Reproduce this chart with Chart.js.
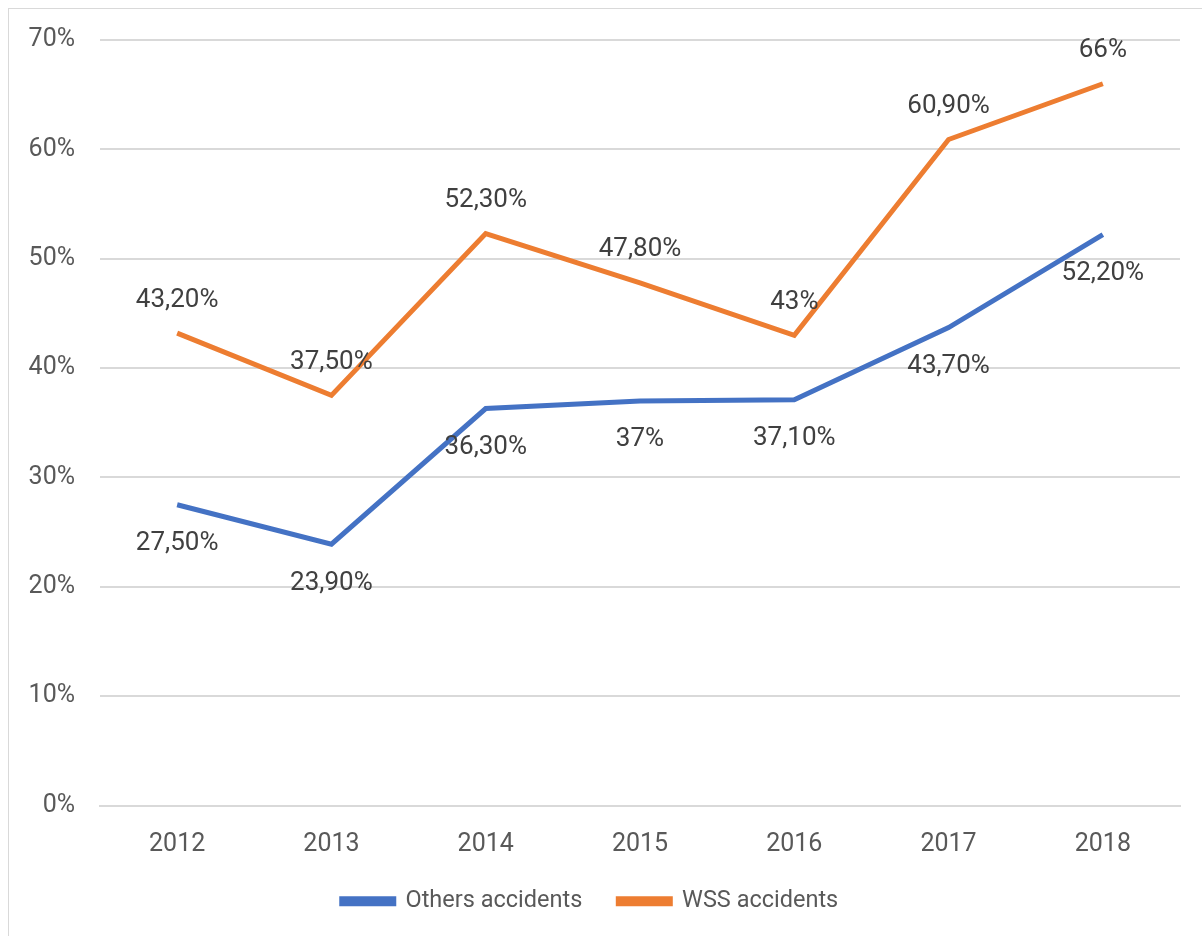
<!DOCTYPE html>
<html>
<head>
<meta charset="utf-8">
<script src="https://cdn.jsdelivr.net/npm/chart.js@4"></script>
<style>
  html, body { margin: 0; padding: 0; background: #fff; }
  #frame { position: absolute; left: 8px; top: 8px; width: 1220px; height: 960px; border: 1px solid #d9d9d9; }
  #wrap { position: absolute; left: 0; top: 0; width: 1202px; height: 936px; }
</style>
</head>
<body>
<div id="frame"></div>
<div id="wrap"><canvas id="chart"></canvas></div>
<script>
// ---- data ----
var YEARS  = ["2012", "2013", "2014", "2015", "2016", "2017", "2018"];
var OTHERS = [27.5, 23.9, 36.3, 37.0, 37.1, 43.7, 52.2];
var WSS    = [43.2, 37.5, 52.3, 47.8, 43.0, 60.9, 66.0];
var Y_TICKS = [0, 10, 20, 30, 40, 50, 60, 70];

var FONT = "Roboto, 'Open Sans', sans-serif";

function fmtPct(v) {
  // Excel-style with comma decimal: 43,20% / 37%
  if (Math.round(v) === v) return v + "%";
  return v.toFixed(2).replace(".", ",") + "%";
}

// Draw the value labels above (WSS) or below (Others) each point
var valueLabels = {
  id: "valueLabels",
  afterDatasetsDraw: function(chart) {
    var ctx = chart.ctx;
    ctx.save();
    ctx.font = "26px " + FONT;
    ctx.fillStyle = "#404040";
    ctx.textAlign = "center";
    ctx.textBaseline = "middle";
    chart.data.datasets.forEach(function(ds, i) {
      var meta = chart.getDatasetMeta(i);
      meta.data.forEach(function(pt, j) {
        var dy = ds.labelBelow ? 39 : -33;
        ctx.fillText(fmtPct(ds.data[j]), pt.x, pt.y + dy);
      });
    });
    ctx.restore();
  },
};

new Chart(document.getElementById("chart"), {
  type: "line",
  data: {
    labels: YEARS,
    datasets: [
      {
        label: "Others accidents",
        data: OTHERS,
        borderColor: "#4472C4",
        backgroundColor: "#4472C4",
        borderWidth: 5,
        pointRadius: 0,
        tension: 0,
        labelBelow: true,
      },
      {
        label: "WSS accidents",
        data: WSS,
        borderColor: "#ED7D31",
        backgroundColor: "#ED7D31",
        borderWidth: 5,
        pointRadius: 0,
        tension: 0,
        labelBelow: false,
      },
    ],
  },
  options: {
    responsive: true,
    maintainAspectRatio: false,
    animation: false,
    layout: { padding: { left: 0, right: 22, top: 27, bottom: 13 } },
    plugins: {
      tooltip: { enabled: false },
      legend: {
        display: true,
        position: "bottom",
        labels: {
          color: "#595959",
          font: { family: FONT, size: 23.5 },
          boxWidth: 52,
          boxHeight: 5,
          padding: 36,
        },
      },
    },
    scales: {
      x: {
        afterFit: function(scale) { scale.height = 48; },
        grid: { display: false, drawTicks: false },
        border: { display: true, color: "#d9d9d9", width: 2 },
        ticks: { color: "#595959", font: { family: FONT, size: 25 }, padding: 24 },
        offset: true,
      },
      y: {
        min: 0,
        max: 70,
        afterFit: function(scale) { scale.width = 100; },
        afterBuildTicks: function(scale) {
          scale.ticks = Y_TICKS.map(function(v) { return { value: v }; });
        },
        grid: { color: "#d9d9d9", lineWidth: 2, drawTicks: false },
        border: { display: false },
        ticks: {
          color: "#595959",
          font: { family: FONT, size: 25 },
          padding: 25,
          callback: function(v) { return v + "%"; },
        },
      },
    },
  },
  plugins: [valueLabels],
});
</script>
</body>
</html>
